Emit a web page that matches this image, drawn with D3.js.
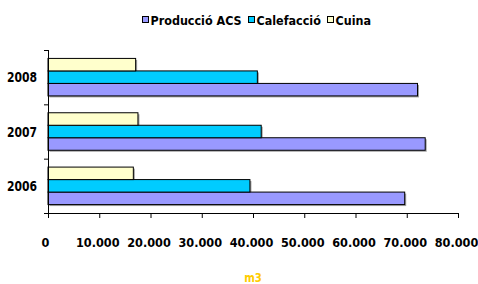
<!DOCTYPE html>
<html>
<head>
<meta charset="utf-8">
<script src="https://cdn.jsdelivr.net/npm/d3@7"></script>
<style>
  body { margin: 0; background: #fff; }
  text { font-family: "DejaVu Sans", sans-serif; font-weight: bold; }
</style>
</head>
<body>
<div id="plot"></div>
<script>
// Data
const years = ["2006", "2007", "2008"];
const seriesNames = ["Producció ACS", "Calefacció", "Cuina"];
const acs = [69600, 73600, 72100];
const calefaccio = [39400, 41600, 40850];
const cuina = [16650, 17550, 17100];
const xTicks = [0, 10000, 20000, 30000, 40000, 50000, 60000, 70000, 80000];
const colors = ["#9999FF", "#00CCFF", "#FFFFCC"];

const svg_w = 478;
const svg_h = 284;
const margin = {top: 50, right: 20, bottom: 71, left: 48};
const innerWidth = 458 - margin.left;
const innerHeight = svg_h - margin.top - margin.bottom;

// squeeze text horizontally to mimic a narrower font
function condense(sel, k) {
  sel.each(function() {
    const w = this.getComputedTextLength();
    d3.select(this)
      .attr("textLength", w * k)
      .attr("lengthAdjust", "spacingAndGlyphs");
  });
}

const svg = d3.select("div#plot")
  .append("svg")
    .attr("width", svg_w)
    .attr("height", svg_h);

const table = years.map((y, i) => ({
  year: y,
  values: [acs[i], calefaccio[i], cuina[i]]
}));

const xScale = d3.scaleLinear().domain([0, 80000]).range([0, innerWidth]);
// 2006 at bottom
const yScale = d3.scaleBand().domain(years.slice().reverse()).range([0, innerHeight])
  .paddingInner(0.31).paddingOuter(0.155);
// inside a group: Cuina on top, ACS at bottom
const ySub = d3.scaleBand().domain([2, 1, 0]).range([0, yScale.bandwidth()]);

const g = svg.append("g")
  .attr("transform", `translate(${margin.left}, ${margin.top})`);

const groups = g.selectAll("g.year")
  .data(table)
  .enter()
  .append("g")
    .attr("class", "year")
    .attr("transform", d => `translate(0, ${yScale(d.year)})`);

// shadows
groups.selectAll("rect.shadow")
  .data(d => d.values.map((v, i) => ({v: v, i: i})))
  .enter()
  .append("rect")
    .attr("class", "shadow")
    .attr("x", xScale(0) + 1.5)
    .attr("y", d => ySub(d.i) + 1.5)
    .attr("width", d => xScale(d.v))
    .attr("height", ySub.bandwidth())
    .attr("fill", "#a0a0a0");

groups.selectAll("rect.bar")
  .data(d => d.values.map((v, i) => ({v: v, i: i})))
  .enter()
  .append("rect")
    .attr("class", "bar")
    .attr("x", xScale(0))
    .attr("y", d => ySub(d.i))
    .attr("width", d => xScale(d.v))
    .attr("height", ySub.bandwidth())
    .attr("fill", d => colors[d.i])
    .attr("stroke", "#000")
    .attr("stroke-width", 1);

// x axis
const xAxis = d3.axisBottom(xScale)
  .tickValues(xTicks)
  .tickSize(5)
  .tickPadding(20)
  .tickFormat(d => d3.format(",")(d).replace(/,/g, "."));

const xg = svg.append("g")
  .attr("transform", `translate(${margin.left}, ${margin.top + innerHeight})`)
  .call(xAxis);
xg.select(".domain").attr("stroke", "#000").attr("d", `M0,0.5H${innerWidth}`);
xg.selectAll(".tick line").attr("stroke", "#000");
xg.selectAll(".tick text")
  .style("font-size", "12px")
  .attr("fill", "#000")
  .attr("dx", d => d === 0 ? -3 : -2)
  .call(condense, 0.94);

// y axis, ticks at band boundaries
const yLine = d3.scaleLinear().domain([0, 3]).range([innerHeight, 0]);
const yg = svg.append("g")
  .attr("transform", `translate(${margin.left}, ${margin.top})`);
yg.append("line")
  .attr("x1", 0.5).attr("x2", 0.5)
  .attr("y1", 0).attr("y2", innerHeight)
  .attr("stroke", "#000");
yg.selectAll("line.tick")
  .data([0, 1, 2, 3])
  .enter()
  .append("line")
    .attr("class", "tick")
    .attr("x1", -4).attr("x2", 0)
    .attr("y1", d => yLine(d) + 0.5)
    .attr("y2", d => yLine(d) + 0.5)
    .attr("stroke", "#000");
yg.selectAll("text.ylab")
  .data(years)
  .enter()
  .append("text")
    .attr("class", "ylab")
    .attr("x", -11)
    .attr("y", d => yScale(d) + yScale.bandwidth() / 2 + 5)
    .attr("text-anchor", "end")
    .style("font-size", "13.5px")
    .text(d => d)
    .call(condense, 0.8);

// axis title
svg.append("text")
  .attr("x", 253)
  .attr("y", 282)
  .attr("text-anchor", "middle")
  .attr("fill", "#FFCC00")
  .style("font-size", "12px")
  .text("m3")
  .call(condense, 0.85);

// legend
const legendX = [142, 248, 327];
const legend = svg.append("g");
const items = legend.selectAll("g")
  .data(seriesNames)
  .enter()
  .append("g")
    .attr("transform", (d, i) => `translate(${legendX[i]}, 0)`);
items.append("rect")
  .attr("x", 0.5).attr("y", 16.5)
  .attr("width", 6).attr("height", 6)
  .attr("fill", (d, i) => colors[i])
  .attr("stroke", "#000");
items.append("text")
  .attr("x", 8.5)
  .attr("y", 24.5)
  .style("font-size", "13px")
  .text(d => d)
  .call(condense, 0.86);
</script>
</body>
</html>
